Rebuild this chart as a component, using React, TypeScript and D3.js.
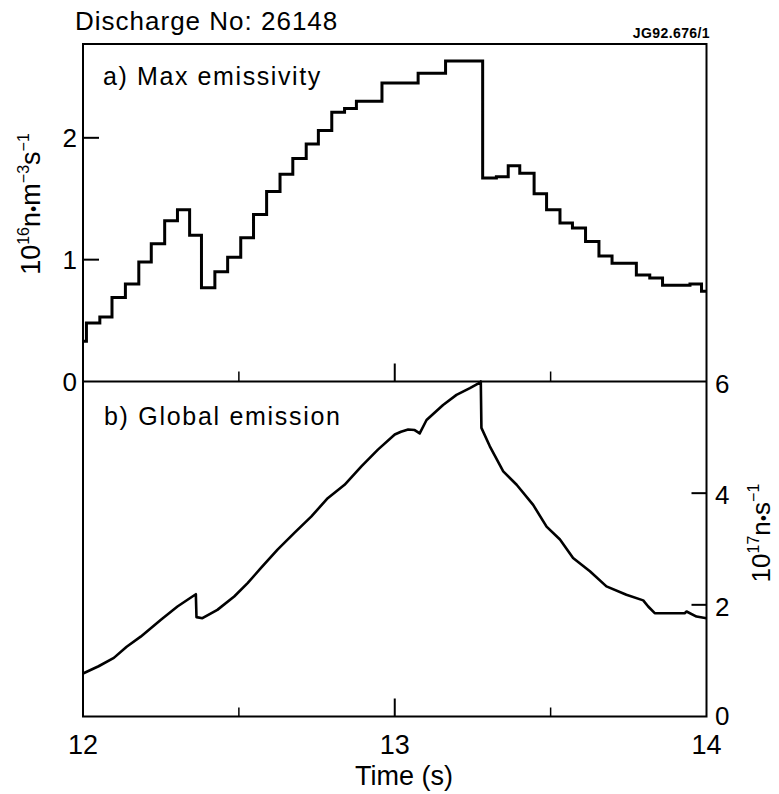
import React from 'react';
import * as d3 from 'd3';

// a) Max emissivity (10^16 n m^-3 s^-1), step data: start time of each step and its value
const stepTimes = [12.0, 12.011, 12.054, 12.093, 12.136, 12.179, 12.219, 12.262, 12.303, 12.342, 12.38, 12.423, 12.464, 12.506, 12.547, 12.589, 12.632, 12.673, 12.716, 12.755, 12.798, 12.839, 12.877, 12.959, 13.075, 13.163, 13.282, 13.326, 13.364, 13.401, 13.447, 13.487, 13.53, 13.57, 13.612, 13.655, 13.697, 13.775, 13.818, 13.859, 13.947, 13.984];
const stepValues = [0.33, 0.48, 0.53, 0.69, 0.8, 0.98, 1.13, 1.32, 1.41, 1.2, 0.77, 0.9, 1.02, 1.18, 1.37, 1.56, 1.7, 1.83, 1.95, 2.06, 2.21, 2.24, 2.3, 2.45, 2.53, 2.63, 1.67, 1.68, 1.77, 1.71, 1.54, 1.41, 1.3, 1.26, 1.15, 1.03, 0.97, 0.875, 0.85, 0.79, 0.8, 0.74];
const stepEnd = 14.0;

// b) Global emission (10^17 n s^-1)
const globalTimes = [12.0, 12.05, 12.099, 12.14, 12.185, 12.249, 12.303, 12.351, 12.362, 12.364, 12.383, 12.431, 12.485, 12.528, 12.571, 12.624, 12.678, 12.732, 12.785, 12.839, 12.893, 12.946, 13.0, 13.02, 13.043, 13.064, 13.08, 13.102, 13.155, 13.198, 13.241, 13.273, 13.276, 13.278, 13.305, 13.348, 13.391, 13.444, 13.487, 13.53, 13.572, 13.626, 13.679, 13.743, 13.797, 13.813, 13.834, 13.93, 13.936, 13.968, 14.0];
const globalValues = [0.77, 0.9, 1.05, 1.25, 1.43, 1.73, 1.97, 2.15, 2.19, 1.78, 1.76, 1.91, 2.15, 2.39, 2.66, 2.99, 3.29, 3.58, 3.91, 4.15, 4.48, 4.78, 5.05, 5.1, 5.14, 5.13, 5.07, 5.31, 5.58, 5.76, 5.88, 5.98, 6.0, 5.17, 4.84, 4.39, 4.15, 3.79, 3.4, 3.17, 2.84, 2.6, 2.33, 2.18, 2.08, 1.97, 1.85, 1.85, 1.88, 1.79, 1.76];

const xTickLabels = [12, 13, 14];
const xMinorTicks = [12.5, 13.5];
const xMajorInner = [13];
const topTicks = [0, 1, 2];
const bottomTicks = [0, 2, 4, 6];

const FONT = '"Liberation Sans", Arial, Helvetica, sans-serif';

export default function App() {
  const W = 779, H = 794;
  const L = 83, R = 706.5, T = 44, M = 381.5, B = 716.5;
  const x = d3.scaleLinear().domain([12, 14]).range([L, R]);
  const yTop = d3.scaleLinear().domain([0, 2.77]).range([M, T]);
  const yBot = d3.scaleLinear().domain([0, 6]).range([B, M]);

  const stepData = stepTimes.map((t, i) => [t, stepValues[i]] as [number, number]);
  stepData.push([stepEnd, stepValues[stepValues.length - 1]]);
  const stepPath = d3.line<[number, number]>()
    .x(d => x(d[0]))
    .y(d => yTop(d[1]))
    .curve(d3.curveStepAfter)(stepData) || '';

  const globalData = globalTimes.map((t, i) => [t, globalValues[i]] as [number, number]);
  const globalPath = d3.line<[number, number]>()
    .x(d => x(d[0]))
    .y(d => yBot(d[1]))(globalData) || '';

  const tickFont = 26;

  return (
    <svg width={W} height={H} style={{ position: 'absolute', left: 0, top: 0, background: '#fff' }}
      fontFamily={FONT}>
      <rect x={0} y={0} width={W} height={H} fill="#fff" />
      {/* title */}
      <text x={75} y={30} fontSize={26} letterSpacing={1} fill="#000">Discharge No: 26148</text>
      <text x={710} y={38} fontSize={14} fontWeight="bold" textAnchor="end" fill="#000" letterSpacing={0.4}>JG92.676/1</text>

      {/* frame */}
      <rect x={L} y={T} width={R - L} height={B - T} fill="none" stroke="#000" strokeWidth={2} />
      <line x1={L} x2={R} y1={M} y2={M} stroke="#000" strokeWidth={2} />

      {/* top panel left ticks */}
      {topTicks.filter(v => v > 0).map(v => (
        <line key={'tl' + v} x1={L} x2={L + 16} y1={yTop(v)} y2={yTop(v)} stroke="#000" strokeWidth={2} />
      ))}
      {topTicks.map(v => (
        <text key={'tt' + v} x={77} y={yTop(v) + 9} fontSize={tickFont} textAnchor="end" fill="#000">{v}</text>
      ))}

      {/* x ticks on the middle axis (top panel) and bottom axis */}
      {xMajorInner.map(t => (
        <g key={'xm' + t}>
          <line x1={x(t)} x2={x(t)} y1={M} y2={M - 18} stroke="#000" strokeWidth={2} />
          <line x1={x(t)} x2={x(t)} y1={B} y2={B - 18} stroke="#000" strokeWidth={2} />
        </g>
      ))}
      {xMinorTicks.map(t => (
        <g key={'xn' + t}>
          <line x1={x(t)} x2={x(t)} y1={M} y2={M - 10} stroke="#000" strokeWidth={1.5} />
          <line x1={x(t)} x2={x(t)} y1={B} y2={B - 9} stroke="#000" strokeWidth={1.5} />
        </g>
      ))}
      {xTickLabels.map(t => (
        <text key={'xl' + t} x={x(t)} y={754} fontSize={27} textAnchor="middle" fill="#000">{t}</text>
      ))}
      <text x={404} y={785} fontSize={27} textAnchor="middle" fill="#000">Time (s)</text>

      {/* bottom panel right ticks */}
      {bottomTicks.filter(v => v > 0 && v < 6).map(v => (
        <line key={'br' + v} x1={R - 15} x2={R} y1={yBot(v)} y2={yBot(v)} stroke="#000" strokeWidth={2} />
      ))}
      {bottomTicks.map(v => (
        <text key={'bt' + v} x={715} y={yBot(v) + (v === 0 ? 8 : 11)} fontSize={tickFont} fill="#000">{v}</text>
      ))}

      {/* panel labels */}
      <text x={103} y={85} fontSize={25} letterSpacing={1.6} fill="#000">a) Max emissivity</text>
      <text x={104} y={425} fontSize={25} letterSpacing={1.7} fill="#000">b) Global emission</text>

      {/* axis titles */}
      <text transform="translate(40,204) rotate(-90)" fontSize={27} textAnchor="middle" fill="#000">
        10<tspan fontSize={16} dy={-11}>16</tspan><tspan dy={11}>n</tspan><tspan fontSize={18}>•</tspan>m<tspan fontSize={16} dy={-11}>−3</tspan><tspan dy={11}>s</tspan><tspan fontSize={16} dy={-11}>−1</tspan>
      </text>
      <text transform="translate(770,533) rotate(-90)" fontSize={26} textAnchor="middle" fill="#000">
        10<tspan fontSize={16} dy={-11}>17</tspan><tspan dy={11}>n</tspan><tspan fontSize={18}>•</tspan>s<tspan fontSize={16} dy={-11}>−1</tspan>
      </text>

      {/* data */}
      <path d={stepPath} fill="none" stroke="#000" strokeWidth={3} strokeLinejoin="miter" />
      <path d={globalPath} fill="none" stroke="#000" strokeWidth={2.6} strokeLinejoin="round" />
    </svg>
  );
}
